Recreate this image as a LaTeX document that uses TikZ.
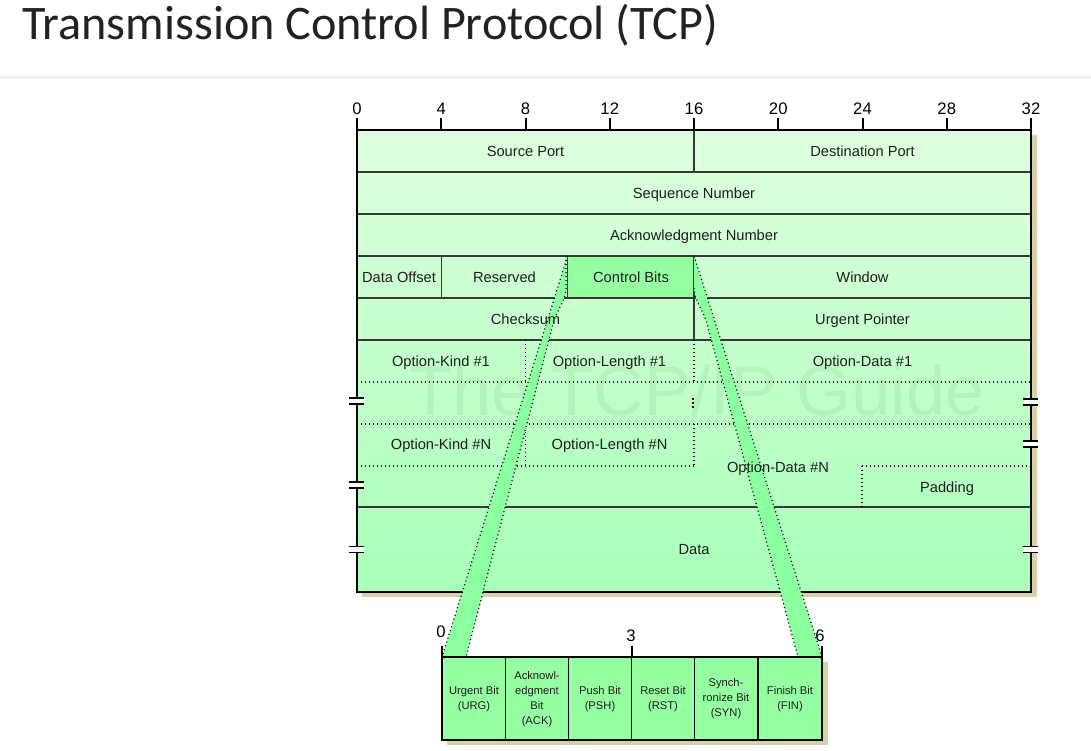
\documentclass[tikz,border=0pt]{standalone}
\usepackage{fontspec}
\usepackage{graphicx}
\setmainfont{Liberation Sans}
\newfontfamily\titlefont{Carlito}
\definecolor{topgreen}{RGB}{222,255,222}
\definecolor{botgreen}{RGB}{168,255,184}
\definecolor{cbgreen}{RGB}{150,255,162}
\definecolor{stripegreen}{RGB}{140,255,160}
\definecolor{shadowtan}{RGB}{214,209,170}
\definecolor{linegray}{RGB}{55,55,55}
\definecolor{txt}{RGB}{30,30,30}
\definecolor{sepgray}{RGB}{240,240,240}
\definecolor{titlecol}{RGB}{34,34,34}
\tikzset{
  lbl/.style={font=\fontsize{11}{13}\selectfont, text=txt, inner sep=0pt, text height=7.9pt, text depth=0pt},
  bitlbl/.style={font=\fontsize{8.4}{11.2}\selectfont, align=center, text=txt, inner sep=0pt},
  ruler/.style={font=\fontsize{12.5}{14}\selectfont, text=black, inner sep=0pt, text height=9pt, text depth=0pt},
  cellline/.style={draw=linegray, line width=0.9pt},
  dotline/.style={draw=black, line width=0.9pt, dash pattern=on 0.8pt off 2.2pt},
  border/.style={draw=black, line width=1.5pt},
  tick/.style={draw=black, line width=1.5pt},
  stripe/.style={fill=stripegreen},
}
\begin{document}
\begin{tikzpicture}[x=0.75pt,y=-0.75pt]
\useasboundingbox (0,0) rectangle (1091,750);
\fill[white] (0,0) rectangle (1091,750);
% title and separator
\node[anchor=west, inner sep=0pt, text=titlecol] (title) at (22,25)
  {\resizebox{522pt}{!}{\titlefont Transmission Control Protocol (TCP)}};
\fill[sepgray] (0,76) rectangle (1091,79);
% shadows
\fill[shadowtan] (362,135) rectangle (1037,597);
\fill[shadowtan] (447,662) rectangle (828,745);
% table fill
\shade[top color=topgreen, bottom color=botgreen] (357,130) rectangle (1031,592);
\fill[cbgreen] (567.6,256) rectangle (694,298);
% watermark
\node[text=black, text opacity=0.05, inner sep=0pt] (wm) at (697,390)
  {\resizebox{431pt}{!}{The TCP/IP Guide}};
% solid cell lines
\foreach \y in {172,214,256,298,340,507} \draw[cellline] (357,\y) -- (1031,\y);
\draw[cellline] (694,130) -- (694,172);
\draw[cellline] (441.25,256) -- (441.25,298);
\draw[cellline] (567.6,256) -- (567.6,298);
\draw[cellline] (694,256) -- (694,340);
% dotted cell lines
\draw[dotline] (357,382) -- (1031,382);
\draw[dotline] (357,424) -- (1031,424);
\draw[dotline] (357,466) -- (694,466);
\draw[dotline] (525.5,340) -- (525.5,382);
\draw[dotline] (694,340) -- (694,382);
\draw[dotline] (525.5,424) -- (525.5,466);
\draw[dotline] (694,424) -- (694,466);
\draw[dotline] (862,466) -- (1031,466);
\draw[dotline] (862,466) -- (862,507);
% vertical ellipsis mark
\foreach \vy in {399,403,407} \fill[black] (692,\vy-1) rectangle (694,\vy+1);
% outer border
\draw[border] (357,130) rectangle (1031,592);
% break marks
\foreach \bx/\by in {357/401,357/485,357/549.5,1031/402,1031/444,1031/549.5} {
  \fill[white] (\bx-8,\by-3) rectangle (\bx+7,\by+3);
  \draw[line width=1.2pt] (\bx-8,\by-3) -- (\bx+7,\by-3) (\bx-8,\by+3) -- (\bx+7,\by+3);
}
% ruler
\foreach \b in {0,4,...,32} {
  \draw[tick] ({357+\b*21.0625},118) -- ({357+\b*21.0625},130);
  \node[ruler] (r\b) at ({357+\b*21.0625},108) {\b};
}
% zoom stripes
\fill[stripe] (567.6,256) -- (442,657) -- (466,657) -- (553.5,322)
  .. controls (557,310) and (566,300) .. (566,288) -- (566,256) -- cycle;
\draw[dotline] (567.6,256) -- (442,657);
\draw[dotline] (566,256) -- (566,288) .. controls (566,300) and (557,310) .. (553.5,322) -- (466,657);
\fill[stripe] (694,256) -- (822,657) -- (798,657) -- (706.5,322)
  .. controls (703,310) and (694,300) .. (694,288) -- cycle;
\draw[dotline] (694,256) -- (822,657);
\draw[dotline] (694,288) .. controls (694,300) and (703,310) .. (706.5,322) -- (798,657);
% labels
\node[lbl] (srcport) at (525.5,151) {Source Port};
\node[lbl] (dstport) at (862.5,151) {Destination Port};
\node[lbl] (seq) at (694,193) {Sequence Number};
\node[lbl] (ack) at (694,235) {Acknowledgment Number};
\node[lbl] (doff) at (399,277) {Data Offset};
\node[lbl] (resv) at (504.5,277) {Reserved};
\node[lbl] (ctrl) at (631,277) {Control Bits};
\node[lbl] (win) at (862.5,277) {Window};
\node[lbl] (csum) at (525.5,319) {Checksum};
\node[lbl] (urgp) at (862.5,319) {Urgent Pointer};
\node[lbl] (ok1) at (441,361) {Option-Kind \#1};
\node[lbl] (ol1) at (609.5,361) {Option-Length \#1};
\node[lbl] (od1) at (862.5,361) {Option-Data \#1};
\node[lbl] (okn) at (441,444) {Option-Kind \#N};
\node[lbl] (oln) at (609.5,444) {Option-Length \#N};
\node[lbl] (odn) at (778,467) {Option-Data \#N};
\node[lbl] (pad) at (947,487) {Padding};
\node[lbl] (data) at (694,549.5) {Data};
% control bits detail box
\draw[border, fill=cbgreen] (442,657) rectangle (822,740);
\foreach \x in {505.5,568.5,631.5,694.5,758} \draw[line width=1pt] (\x,657) -- (\x,740);
\draw[tick] (442,646) -- (442,657);
\draw[tick] (631.5,646) -- (631.5,657);
\draw[tick] (822,646) -- (822,657);
\node[ruler] (b0) at (441,631) {0};
\node[ruler] (b3) at (631,635) {3};
\node[ruler] (b6) at (820,635) {6};
\node[bitlbl] (urg) at (474,699) {Urgent Bit\\(URG)};
\node[bitlbl] (ackb) at (537,699) {Acknowl-\\edgment\\Bit\\(ACK)};
\node[bitlbl] (psh) at (600,699) {Push Bit\\(PSH)};
\node[bitlbl] (rst) at (663,699) {Reset Bit\\(RST)};
\node[bitlbl] (syn) at (726,699) {Synch-\\ronize Bit\\(SYN)};
\node[bitlbl] (fin) at (790,699) {Finish Bit\\(FIN)};
\end{tikzpicture}
\end{document}
